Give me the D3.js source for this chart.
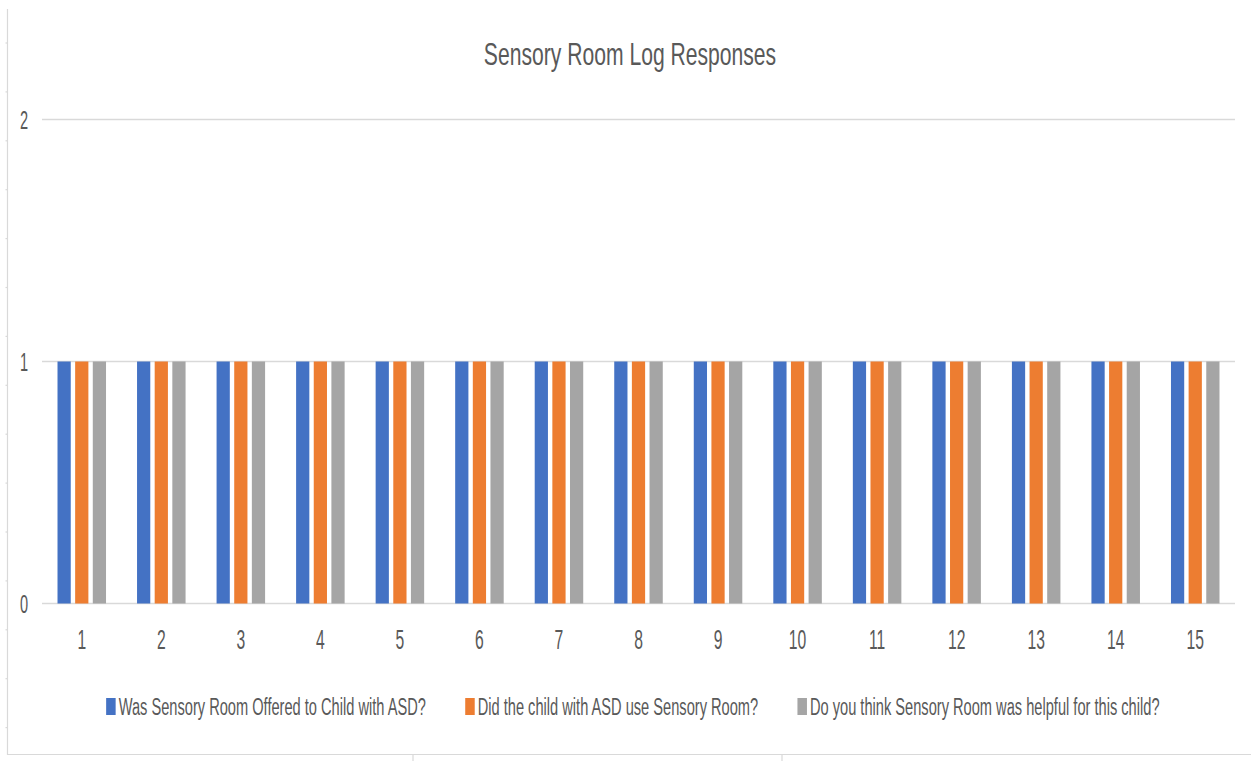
<!DOCTYPE html>
<html>
<head>
<meta charset="utf-8">
<script src="https://cdn.jsdelivr.net/npm/d3@7"></script>
<style>
  body { margin: 0; background: #fff; }
  text { font-family: "Liberation Sans", Arial, sans-serif; fill: #595959; }
</style>
</head>
<body>
<div id="main"></div>
<script>
// data
const categories = ["1","2","3","4","5","6","7","8","9","10","11","12","13","14","15"];
const seriesNames = [
  "Was Sensory Room Offered to Child with ASD?",
  "Did the child with ASD use Sensory Room?",
  "Do you think Sensory Room was helpful for this child?"
];
const offered = [1,1,1,1,1,1,1,1,1,1,1,1,1,1,1];
const used    = [1,1,1,1,1,1,1,1,1,1,1,1,1,1,1];
const helpful = [1,1,1,1,1,1,1,1,1,1,1,1,1,1,1];
const yTicks = [0, 1, 2];
const colors = ["#4472C4", "#ED7D31", "#A5A5A5"];

const width = 1251;
const height = 761;
const sx = 0.56; // text is squeezed sideways in the picture

const svg = d3.select("#main")
  .append("svg")
  .attr("width", width)
  .attr("height", height);

// outer frame of the chart object
const frame = svg.append("g").attr("stroke", "#d9d9d9").attr("stroke-width", 1.2);
frame.append("line").attr("x1", 7.5).attr("x2", 7.5).attr("y1", 9).attr("y2", 755);
frame.append("line").attr("x1", 7).attr("x2", width).attr("y1", 754.5).attr("y2", 754.5);
frame.selectAll(".lt").data(d3.range(15)).join("line")
  .attr("x1", 5.5).attr("x2", 7.5)
  .attr("y1", i => 43 + i * 48.9).attr("y2", i => 43 + i * 48.9);
frame.selectAll(".bt").data([413, 782]).join("line")
  .attr("x1", d => d).attr("x2", d => d)
  .attr("y1", 755).attr("y2", 761);

const margin = { top: 119.5, bottom: 157.5, left: 42, right: 16 };

const x = d3.scaleBand()
  .domain(categories)
  .range([margin.left, width - margin.right])
  .paddingInner(0.39)
  .paddingOuter(0.195);

const xSub = d3.scaleBand()
  .domain(d3.range(seriesNames.length))
  .range([0, x.bandwidth()])
  .paddingInner(0.25);

const y = d3.scaleLinear()
  .domain([0, 2])
  .range([height - margin.bottom, margin.top]);

// gridlines
svg.append("g")
  .selectAll("line")
  .data(yTicks)
  .join("line")
    .attr("x1", margin.left)
    .attr("x2", width - margin.right)
    .attr("y1", d => y(d))
    .attr("y2", d => y(d))
    .attr("stroke", "#d9d9d9")
    .attr("stroke-width", 1.5);

// bars
const series = [offered, used, helpful];
const rows = [];
series.forEach((vals, s) => vals.forEach((v, i) => rows.push({ s, cat: categories[i], v })));

svg.append("g")
  .selectAll("rect")
  .data(rows)
  .join("rect")
    .attr("x", d => x(d.cat) + xSub(d.s))
    .attr("y", d => y(d.v))
    .attr("width", xSub.bandwidth())
    .attr("height", d => y(0) - y(d.v))
    .attr("fill", d => colors[d.s]);

// y tick labels
svg.append("g")
  .selectAll("text")
  .data(yTicks)
  .join("text")
    .attr("transform", d => `translate(28,${y(d) + 9}) scale(${sx},1)`)
    .attr("text-anchor", "end")
    .attr("font-size", 26)
    .text(d => d);

// x tick labels
svg.append("g")
  .selectAll("text")
  .data(categories)
  .join("text")
    .attr("transform", d => `translate(${x(d) + x.bandwidth() / 2},${649}) scale(${sx},1)`)
    .attr("text-anchor", "middle")
    .attr("font-size", 28)
    .text(d => d);

// title
svg.append("text")
  .attr("transform", `translate(630,65) scale(0.66,1)`)
  .attr("text-anchor", "middle")
  .attr("font-size", 32)
  .text("Sensory Room Log Responses");

// legend
const lsx = 0.61;
const legend = svg.append("g");
const items = legend.selectAll("g")
  .data(seriesNames)
  .join("g");
items.append("rect")
  .attr("width", 9.5)
  .attr("height", 17)
  .attr("y", 698)
  .attr("fill", (d, i) => colors[i]);
items.append("text")
  .attr("font-size", 24)
  .text(d => d);

let widths = [];
items.select("text").each(function() { widths.push(this.getComputedTextLength() * lsx); });
const gap = 39, pad = 3, sq = 9.5;
const total = d3.sum(widths) + seriesNames.length * (sq + pad) + gap * (seriesNames.length - 1);
let cx = 633 - total / 2;
items.each(function(d, i) {
  const g = d3.select(this);
  g.select("rect").attr("x", cx);
  g.select("text").attr("transform", `translate(${cx + sq + pad},715) scale(${lsx},1)`);
  cx += sq + pad + widths[i] + gap;
});
</script>
</body>
</html>
